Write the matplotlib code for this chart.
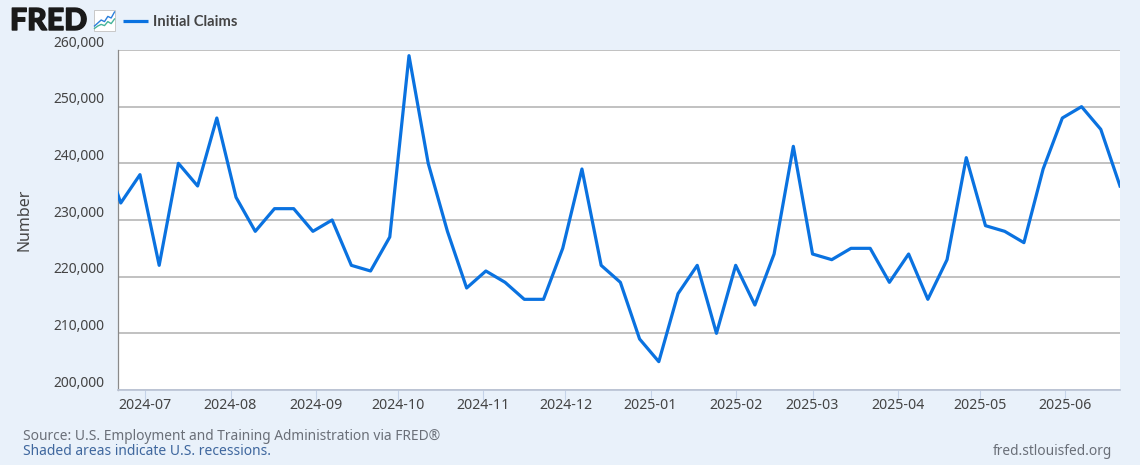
import matplotlib
matplotlib.use("Agg")
import matplotlib.pyplot as plt
import matplotlib.dates as mdates
import matplotlib.patheffects as pe
import numpy as np
from matplotlib.lines import Line2D
from matplotlib.patches import Rectangle

W, H = 1140, 465

# weekly initial claims, thousands
start_week = "2024-06-15"
claims = [243, 233, 238, 222, 240, 236, 248, 234, 228, 232, 232, 228, 230, 222,
          221, 227, 259, 240, 228, 218, 221, 219, 216, 216, 225, 239, 222, 219,
          209, 205, 217, 222, 210, 222, 215, 224, 243, 224, 223, 225, 225, 219,
          224, 216, 223, 241, 229, 228, 226, 239, 248, 250, 246, 236]
y_ticks = [200000, 210000, 220000, 230000, 240000, 250000, 260000]
x_ticks = ["2024-07", "2024-08", "2024-09", "2024-10", "2024-11", "2024-12",
           "2025-01", "2025-02", "2025-03", "2025-04", "2025-05", "2025-06"]
icon_blue = [0.2, 0.35, 0.5, 0.42, 0.68, 0.6, 0.9]
icon_green = [0.08, 0.2, 0.28, 0.22, 0.42, 0.32, 0.55]

BG = "#e9f1fa"
TEXT = "#444444"
BLUE = "#0a72e0"
FONT = "Noto Sans"

plt.rcParams["font.family"] = [FONT, "DejaVu Sans"]

fig = plt.figure(figsize=(W / 100, H / 100), dpi=100, facecolor=BG)
ax = fig.add_axes([118 / W, 1 - 390 / H, (1120 - 118) / W, 340 / H])


def fx(px):
    return px / W


def fy(py):
    return 1 - py / H


weeks = np.datetime64(start_week) + np.arange(len(claims)) * np.timedelta64(7, "D")
values = np.array(claims) * 1000

ax.plot(mdates.date2num(weeks), values, color=BLUE, lw=2.3, solid_joinstyle="round",
        zorder=3)

ax.set_xlim(mdates.date2num(np.datetime64("2024-06-21")),
            mdates.date2num(np.datetime64("2025-06-21")))
ax.set_ylim(200000, 260000)

ax.set_yticks(y_ticks)
ax.set_yticklabels([])
ax.tick_params(axis="y", length=0)
ax.grid(axis="y", color="#bcbcbc", lw=1.3, zorder=1)
ax.set_axisbelow(True)

for v in y_ticks:
    ax.annotate(f"{v:,}", (0, v), xycoords=("axes fraction", "data"),
                xytext=(-10, 4.8), textcoords="offset points", ha="right", va="center",
                fontsize=10, color=TEXT)

tick_pos = [mdates.date2num(np.datetime64(t + "-01")) for t in x_ticks]
ax.set_xticks(tick_pos)
ax.set_xticklabels(x_ticks, fontsize=10.2, color=TEXT)
ax.tick_params(axis="x", length=7, width=0.8, color="#c5d3e8", pad=-1.2)

for side in ["top", "right"]:
    ax.spines[side].set_visible(False)
ax.spines["left"].set_color("#8a8a8a")
ax.spines["left"].set_linewidth(0.9)
ax.spines["bottom"].set_color("#bcc5d6")
ax.spines["bottom"].set_linewidth(1.3)

fig.text(fx(25), fy(220), "Number", rotation=90, ha="center", va="center",
         fontsize=11.5, color=TEXT)

# header
logo = fig.text(fx(10), fy(21), "FRED", ha="left", va="center", fontsize=21.8,
                family=["Lato", "DejaVu Sans"], weight="black", color="#1a1a1a")
logo.set_path_effects([pe.withStroke(linewidth=1.0, foreground="#1a1a1a")])
fig.patches.append(Rectangle((fx(93.5), fy(31.5)), 21.5 / W, 21.5 / H, transform=fig.transFigure,
                             facecolor="white", edgecolor="#c8c8c8", lw=0.7))
icon_x = np.linspace(94.5, 114.5, len(icon_blue))
fig.add_artist(Line2D(fx(icon_x), fy(30 - np.array(icon_blue) * 20), color="#2a7fdc", lw=1.0))
fig.add_artist(Line2D(fx(icon_x), fy(30 - np.array(icon_green) * 20), color="#45b49a", lw=1.0))
fig.add_artist(Line2D([fx(123), fx(148)], [fy(21.5), fy(21.5)], color=BLUE, lw=2.3,
                      solid_capstyle="butt"))
fig.text(fx(153), fy(21.5), "Initial Claims", ha="left", va="center", fontsize=10.6,
         family=["Lato", "DejaVu Sans"], weight="bold", color=TEXT)

# footer
fig.text(fx(23), fy(436.5), "Source: U.S. Employment and Training Administration via FRED\u00ae",
         ha="left", va="center", fontsize=9.9, color="#6a6f78")
fig.text(fx(23), fy(451), "Shaded areas indicate U.S. recessions.", ha="left", va="center",
         fontsize=10, color="#3f679e")
fig.text(fx(1112), fy(451), "fred.stlouisfed.org", ha="right", va="center", fontsize=9.9,
         color="#6a6f78")

fig.savefig("out.png", dpi=100, facecolor=BG)
